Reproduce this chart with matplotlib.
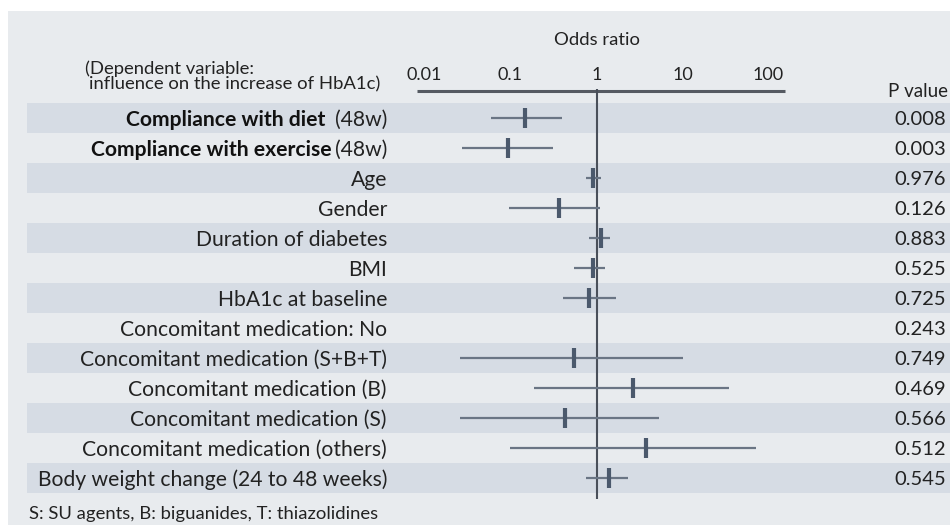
import numpy as np
import matplotlib
matplotlib.use('Agg')
import matplotlib.pyplot as plt
from matplotlib.patches import Rectangle
from matplotlib.transforms import blended_transform_factory

plt.rcParams['font.family'] = ['Lato', 'DejaVu Sans']

# Data
labels = ['Compliance with diet', 'Compliance with exercise', 'Age', 'Gender',
          'Duration of diabetes', 'BMI', 'HbA1c at baseline',
          'Concomitant medication: No', 'Concomitant medication (S+B+T)',
          'Concomitant medication (B)', 'Concomitant medication (S)',
          'Concomitant medication (others)', 'Body weight change (24 to 48 weeks)']
suffix = ['(48w)', '(48w)'] + [''] * 11
odds = [0.147, 0.093, 0.90, 0.37, 1.13, 0.92, 0.81, np.nan, 0.55, 2.64, 0.43, 3.76, 1.40]
lower = [0.059, 0.027, 0.75, 0.097, 0.82, 0.55, 0.41, np.nan, 0.026, 0.19, 0.026, 0.098, 0.75]
upper = [0.40, 0.31, 1.13, 1.11, 1.42, 1.27, 1.70, np.nan, 10.0, 35.0, 5.3, 71.6, 2.31]
pvals = ['0.008', '0.003', '0.976', '0.126', '0.883', '0.525', '0.725',
         '0.243', '0.749', '0.469', '0.566', '0.512', '0.545']
ticks = [0.01, 0.1, 1, 10, 100]
tick_labels = ['0.01', '0.1', '1', '10', '100']

# Colours
panel_c = '#e8ebee'
band_c = '#d6dce4'
text_c = '#222222'
whisk_c = '#6a7584'
mark_c = '#4b596c'
ref_c = '#4a505a'

W, H = 950, 525
fig = plt.figure(figsize=(9.5, 5.25), dpi=100)
fig.patch.set_facecolor('white')
fig.patches.append(Rectangle((8 / W, 0), 942 / W, 514 / H, transform=fig.transFigure,
                             facecolor=panel_c, edgecolor='none', zorder=-10))

# axes spans x 27..950 px, y 11..525 px; 1 decade = 86 px, OR=1 at 596.5 px
ax = fig.add_axes([27 / W, 0, 923 / W, 514 / H])
ax.set_xscale('log')
ax.set_xlim(10 ** ((27 - 596.5) / 86), 10 ** ((950 - 596.5) / 86))
ax.set_ylim((525 - 117.7) / 30, (11 - 117.7) / 30)
ax.patch.set_alpha(0)
ax.axis('off')

n = len(labels)
rows = np.arange(n)
for i in rows[::2]:
    ax.axhspan(i - 0.5, i + 0.5, color=band_c, lw=0, zorder=1)

# axis line, ticks, reference line
y_axis = (91 - 117.7) / 30
ax.hlines(y_axis, 10 ** ((417 - 596.5) / 86), 10 ** ((785 - 596.5) / 86),
          color='#555a62', lw=2.2, zorder=3)
ax.vlines(1, (89 - 117.7) / 30, (499 - 117.7) / 30, color=ref_c, lw=1.5, zorder=4)
for t, tl in zip(ticks, tick_labels):
    ax.text(t, (73.5 - 117.7) / 30, tl, ha='center', va='center_baseline',
            fontsize=13, color=text_c)
ax.text(1, (38.5 - 117.7) / 30, 'Odds ratio', ha='center', va='center_baseline',
        fontsize=13.3, color=text_c)

# estimates
for i in rows:
    if np.isnan(odds[i]):
        continue
    ax.plot([lower[i], upper[i]], [i, i], color=whisk_c, lw=1.6, zorder=5,
            solid_capstyle='butt')
    ax.plot(odds[i], i, marker='|', ms=14, mew=3, color=mark_c, zorder=6)

# row labels and p values
trx = blended_transform_factory(fig.transFigure, ax.transData)
for i in rows:
    if suffix[i]:
        s = ax.text(387 / W, i, suffix[i], transform=trx, ha='right',
                    va='center_baseline', fontsize=15.2, color=text_c)
        gap = 9 if i == 0 else 3
        ax.annotate(labels[i], xy=(0, i), xycoords=(s, 'data'), xytext=(-gap, 0),
                    textcoords='offset pixels', ha='right', va='center_baseline',
                    fontsize=15.2, fontweight='bold', color='#111111')
    else:
        ax.text(387 / W, i, labels[i], transform=trx, ha='right',
                va='center_baseline', fontsize=15.2, color=text_c)
    ax.text(946 / W, i, pvals[i], transform=trx, ha='right', va='center_baseline',
            fontsize=14.5, color=text_c)

ax.text(948 / W, (90 - 117.7) / 30, 'P value', transform=trx, ha='right',
        va='center_baseline', fontsize=13.5, color=text_c)
ax.text(85 / W, (67 - 117.7) / 30, '(Dependent variable:', transform=trx,
        ha='left', va='center_baseline', fontsize=13.3, color=text_c)
ax.text(380 / W, (83 - 117.7) / 30, 'influence on the increase of HbA1c)',
        transform=trx, ha='right', va='center_baseline', fontsize=13.3, color=text_c)
ax.text(29 / W, (513 - 117.7) / 30, 'S: SU agents, B: biguanides, T: thiazolidines',
        transform=trx, ha='left', va='center_baseline', fontsize=13.3, color=text_c)

fig.savefig('out.png', dpi=100)
